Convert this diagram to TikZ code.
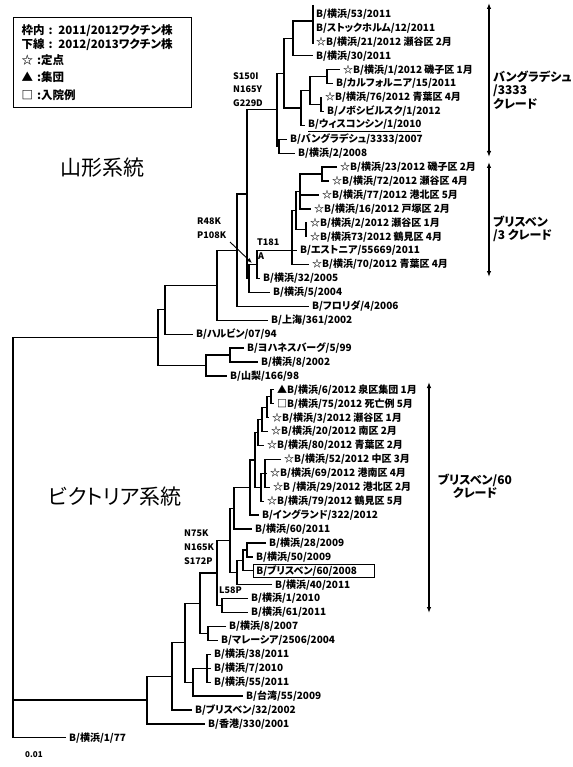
\documentclass[tikz,border=0pt]{standalone}
\usepackage{fontspec}
\setmainfont{Noto Sans CJK JP}[RawFeature=+palt]
\usetikzlibrary{arrows.meta}

\begin{document}
\begin{tikzpicture}[
  x=1pt, y=-1pt,
  every node/.style={align=left},
  branch/.style={line width=1.3pt},
  tip/.style={anchor=west, inner xsep=3pt, inner ysep=1pt, font=\fontsize{10}{12}\selectfont\bfseries},
  mut/.style={anchor=north west, inner sep=0pt, font=\fontsize{9}{13.5}\selectfont\bfseries},
  clade/.style={inner sep=0pt, font=\fontsize{12}{13.5}\selectfont\bfseries},
  cladebar/.style={{Latex[length=6pt,width=4.5pt]}-{Latex[length=6pt,width=4.5pt]}, line width=1.3pt},
  lineage/.style={inner sep=0pt, font=\fontsize{21}{24}\selectfont},
  legend/.style={draw, line width=1pt, anchor=north west, minimum width=178pt, minimum height=90.6pt,
                 text width=167pt, inner xsep=5.5pt, inner ysep=0pt, font=\fontsize{11.5}{14}\selectfont\bfseries},
]
\fill[white] (0,0) rectangle (572,767);
\useasboundingbox (0,0) rectangle (572,767);

% ---------------------------------------------------------------- legend
\node[legend] (legend) at (12.7,16.7) {\hspace*{3pt}枠内 : 2011/2012ワクチン株\\ \hspace*{3pt}下線 : 2012/2013ワクチン株\\[2pt] \hspace*{3pt}☆ :定点\\[3pt] \hspace*{3pt}▲ :集団\\[4pt] \hspace*{3pt}□ :入院例};

\node[lineage] (yamlbl) at (102,168) {山形系統};
\node[lineage] (viclbl) at (115,497) {ビクトリア系統};

% ---------------------------------------------------------- Yamagata tips
\node[tip] (y1)  at (313,14.0)  {B/横浜/53/2011};
\node[tip] (y2)  at (313,27.9)  {B/ストックホルム/12/2011};
\node[tip] (y3)  at (313,41.8)  {☆B/横浜/21/2012 瀬谷区 2月};
\node[tip] (y4)  at (313,55.8)  {B/横浜/30/2011};
\node[tip] (y5)  at (340,69.7)  {☆B/横浜/1/2012 磯子区 1月};
\node[tip] (y6)  at (333,83.6)  {B/カルフォルニア/15/2011};
\node[tip] (y7)  at (322,97.5)  {☆B/横浜/76/2012 青葉区 4月};
\node[tip] (y8)  at (324,111.4) {B/ノボシビルスク/1/2012};
\node[tip] (y9)  at (305,125.4) {\underline{B/ウィスコンシン/1/2010}};
\node[tip] (y10) at (287,139.3) {B/バングラデシュ/3333/2007};
\node[tip] (y11) at (295,153.2) {B/横浜/2/2008};
\node[tip] (y12) at (337,167.1) {☆B/横浜/23/2012 磯子区 2月};
\node[tip] (y13) at (329,181.0) {☆B/横浜/72/2012 瀬谷区 4月};
\node[tip] (y14) at (319,195.0) {☆B/横浜/77/2012 港北区 5月};
\node[tip] (y15) at (311,208.9) {☆B/横浜/16/2012 戸塚区 2月};
\node[tip] (y16) at (307,222.8) {☆B/横浜/2/2012 瀬谷区 1月};
\node[tip] (y17) at (307,236.7) {☆B/横浜73/2012 鶴見区 4月};
\node[tip] (y18) at (297,250.6) {B/エストニア/55669/2011};
\node[tip] (y19) at (309,264.6) {☆B/横浜/70/2012 青葉区 4月};
\node[tip] (y20) at (260,278.5) {B/横浜/32/2005};
\node[tip] (y21) at (270,292.4) {B/横浜/5/2004};
\node[tip] (y22) at (309,306.3) {B/フロリダ/4/2006};
\node[tip] (y23) at (268,320.2) {B/上海/361/2002};
\node[tip] (y24) at (193,334.2) {B/ハルビン/07/94};
\node[tip] (y25) at (244,348.1) {B/ヨハネスバーグ/5/99};
\node[tip] (y26) at (258,362.0) {B/横浜/8/2002};
\node[tip] (y27) at (227,375.9) {B/山梨/166/98};

% ---------------------------------------------------------- Victoria tips
\node[tip] (v1)  at (274,389.8) {▲B/横浜/6/2012 泉区集団 1月};
\node[tip] (v2)  at (274,403.8) {□B/横浜/75/2012 死亡例 5月};
\node[tip] (v3)  at (269,417.7) {☆B/横浜/3/2012 瀬谷区 1月};
\node[tip] (v4)  at (268,431.6) {☆B/横浜/20/2012 南区 2月};
\node[tip] (v5)  at (264,445.5) {☆B/横浜/80/2012 青葉区 2月};
\node[tip] (v6)  at (281,459.4) {☆B/横浜/52/2012 中区 3月};
\node[tip] (v7)  at (267,473.4) {☆B/横浜/69/2012 港南区 4月};
\node[tip] (v8)  at (270,487.3) {☆B /横浜/29/2012 港北区 2月};
\node[tip] (v9)  at (264,501.2) {☆B/横浜/79/2012 鶴見区 5月};
\node[tip] (v10) at (259,515.1) {B/イングランド/322/2012};
\node[tip] (v11) at (252,529.0) {B/横浜/60/2011};
\node[tip] (v12) at (266,543.0) {B/横浜/28/2009};
\node[tip] (v13) at (253,556.9) {B/横浜/50/2009};
\node[tip, draw, line width=0.8pt, text width=115pt, minimum height=13pt] (v14) at (253,570.8) {B/ブリスベン/60/2008};
\node[tip] (v15) at (272,584.7) {B/横浜/40/2011};
\node[tip] (v16) at (248,598.6) {B/横浜/1/2010};
\node[tip] (v17) at (248,612.6) {B/横浜/61/2011};
\node[tip] (v18) at (226,626.5) {B/横浜/8/2007};
\node[tip] (v19) at (218,640.4) {B/マレーシア/2506/2004};
\node[tip] (v20) at (211,654.3) {B/横浜/38/2011};
\node[tip] (v21) at (211,668.2) {B/横浜/7/2010};
\node[tip] (v22) at (211,682.2) {B/横浜/55/2011};
\node[tip] (v23) at (243,696.1) {B/台湾/55/2009};
\node[tip] (v24) at (192,710.0) {B/ブリスベン/32/2002};
\node[tip] (v25) at (205,723.9) {B/香港/330/2001};
\node[tip] (out) at (66,737.8)  {B/横浜/1/77};

\node[mut, anchor=west, font=\fontsize{8}{10}\selectfont\bfseries] (scale) at (25,755) {0.01};

% ------------------------------------------------------- internal nodes
\coordinate (bartop) at (313,5);   \coordinate (barbot) at (313,44);
\coordinate (barmid) at (313,21);
\coordinate (p1) at (293,38.4);  \coordinate (p5) at (327,76.7);
\coordinate (p6) at (321,104.5); \coordinate (p4) at (310,90.6);
\coordinate (p3) at (301,108);   \coordinate (p2) at (284,73.2);
\coordinate (p8) at (279,146.3); \coordinate (p7) at (277,109.7);
\coordinate (n1) at (322,174.1); \coordinate (n2) at (300,191.5);
\coordinate (n4) at (306,229.8); \coordinate (n6) at (296,210.6);
\coordinate (n5) at (292,250.6); \coordinate (m)  at (257,264.6);
\coordinate (l)  at (249,278.5); \coordinate (r)  at (247,194.1);
\coordinate (q)  at (237,250.2); \coordinate (s)  at (217,285.2);
\coordinate (a)  at (165,309.7); \coordinate (j2) at (230,355.0);
\coordinate (j)  at (206,365.5); \coordinate (yam) at (158,337.6);
\coordinate (root) at (13,700.1);

\coordinate (w1) at (271,396.8); \coordinate (w2) at (267,407.3);
\coordinate (w3) at (262,419.4); \coordinate (w4) at (258,432.5);
\coordinate (w5) at (265,473.4); \coordinate (w6) at (261,487.3);
\coordinate (w7) at (255,459.9); \coordinate (vn) at (250,487.5);
\coordinate (vm) at (234,508.3); \coordinate (vl) at (247,550.0);
\coordinate (vk) at (243,560.4); \coordinate (vj) at (237,572.6);
\coordinate (vh) at (230,540.4); \coordinate (vi) at (222,605.6);
\coordinate (vg) at (217,573.0); \coordinate (vf) at (208,633.5);
\coordinate (ve) at (200,603.2); \coordinate (vd) at (207,668.2);
\coordinate (vc) at (193,682.2); \coordinate (vb) at (185,642.7);
\coordinate (va) at (172,676.3); \coordinate (vic) at (147,700.1);

% ------------------------------------------------------ Yamagata branches
\begin{scope}[branch]
\draw (bartop) -- (barbot);
\draw (barmid) -| (p1) |- (y4.west);
\draw (y5.west) -| (p5) |- (y6.west);
\draw (y7.west) -| (p6) |- (y8.west);
\draw (p5) -| (p4) |- (p6);
\draw (p4) -| (p3) |- (y9.west);
\draw (p1) -| (p2) |- (p3);
\draw (y10.west) -| (p8) |- (y11.west);
\draw (p2) -| (p7) |- (p8);
\draw (y12.west) -| (n1) |- (y13.west);
\draw (n1) -| (n2) |- (y15.west);
\draw (n2 |- y14) -- (y14.west);
\draw (y16.west) -| (n4) |- (y17.west);
\draw (n2) -| (n6) |- (n4);
\draw (n6) -| (n5) |- (y19.west);
\draw (n5) -- (y18.west);
\draw (n5) -| (m) |- (y20.west);
\draw (m) -| (l) |- (y21.west);
\draw (p7) -| (r) |- (l);
\draw (r) -| (q) |- (y22.west);
\draw (q) -| (s) |- (y23.west);
\draw (s) -| (a) |- (y24.west);
\draw (y25.west) -| (j2) |- (y26.west);
\draw (j2) -| (j) |- (y27.west);
\draw (a) -| (yam) |- (j);
\draw (yam) -| (root) |- (out.west);

% ------------------------------------------------------ Victoria branches
\draw (v1.west) -| (w1) |- (v2.west);
\draw (w1) -| (w2) |- (v3.west);
\draw (w2) -| (w3) |- (v4.west);
\draw (w3) -| (w4) |- (v5.west);
\draw (v6.west) -| (w5) |- (v8.west);
\draw (w5) -- (v7.west);
\draw (w5) -| (w6) |- (v9.west);
\draw (w4) -| (w7) |- (w6);
\draw (w7) -| (vn) |- (v10.west);
\draw (vn) -| (vm) |- (v11.west);
\draw (v12.west) -| (vl) |- (v13.west);
\draw (vl) -| (vk) |- (v14.west);
\draw (vk) -| (vj) |- (v15.west);
\draw (vm) -| (vh) |- (vj);
\draw (v16.west) -| (vi) |- (v17.west);
\draw (vh) -| (vg) |- (vi);
\draw (v18.west) -| (vf) |- (v19.west);
\draw (vg) -| (ve) |- (vf);
\draw (v20.west) -| (vd) |- (v22.west);
\draw (vd) -- (v21.west);
\draw (vd) -| (vc) |- (v23.west);
\draw (ve) -| (vb) |- (vc);
\draw (vb) -| (va) |- (v24.west);
\draw (va) -| (vic) |- (v25.west);
\draw (root) -- (vic);
\end{scope}

% -------------------------------------------------------------- mutations
\node[mut] (mutyam) at (233,72) {S150I\\N165Y\\G229D};
\node[mut] (mutr48) at (197,218) {R48K\\P108K};
\node[mut, anchor=west] (t181)  at (257,242) {T181};
\node[mut, anchor=west] (t181a) at (258,256) {A};
\node[mut, font=\fontsize{9}{14}\selectfont\bfseries] (mutvic) at (184,530) {N75K\\N165K\\S172P};
\node[mut, anchor=west] (l58p) at (219,590) {L58P};
\coordinate (r48from) at (230,242);
\coordinate (r48to) at (252,263);
\draw[-{Latex[length=5pt,width=4pt]}, line width=0.9pt] (r48from) -- (r48to);

% ----------------------------------------------------------------- clades
\coordinate (bangtop) at (489,3);    \coordinate (bangbot) at (489,157);
\coordinate (bris3top) at (489,162); \coordinate (bris3bot) at (489,277);
\coordinate (bris60top) at (429,382); \coordinate (bris60bot) at (429,613);
\draw[cladebar] (bangtop) -- (bangbot);
\draw[cladebar] (bris3top) -- (bris3bot);
\draw[cladebar] (bris60top) -- (bris60bot);
\node[clade, anchor=west] (banglbl) at (493,90) {バングラデシュ\\/3333\\クレード};
\node[clade, anchor=west] (bris3lbl) at (493,229) {ブリスベン\\/3 クレード};
\node[clade, align=center] (bris60lbl) at (475,486) {ブリスベン/60\\クレード};

\end{tikzpicture}
\end{document}
